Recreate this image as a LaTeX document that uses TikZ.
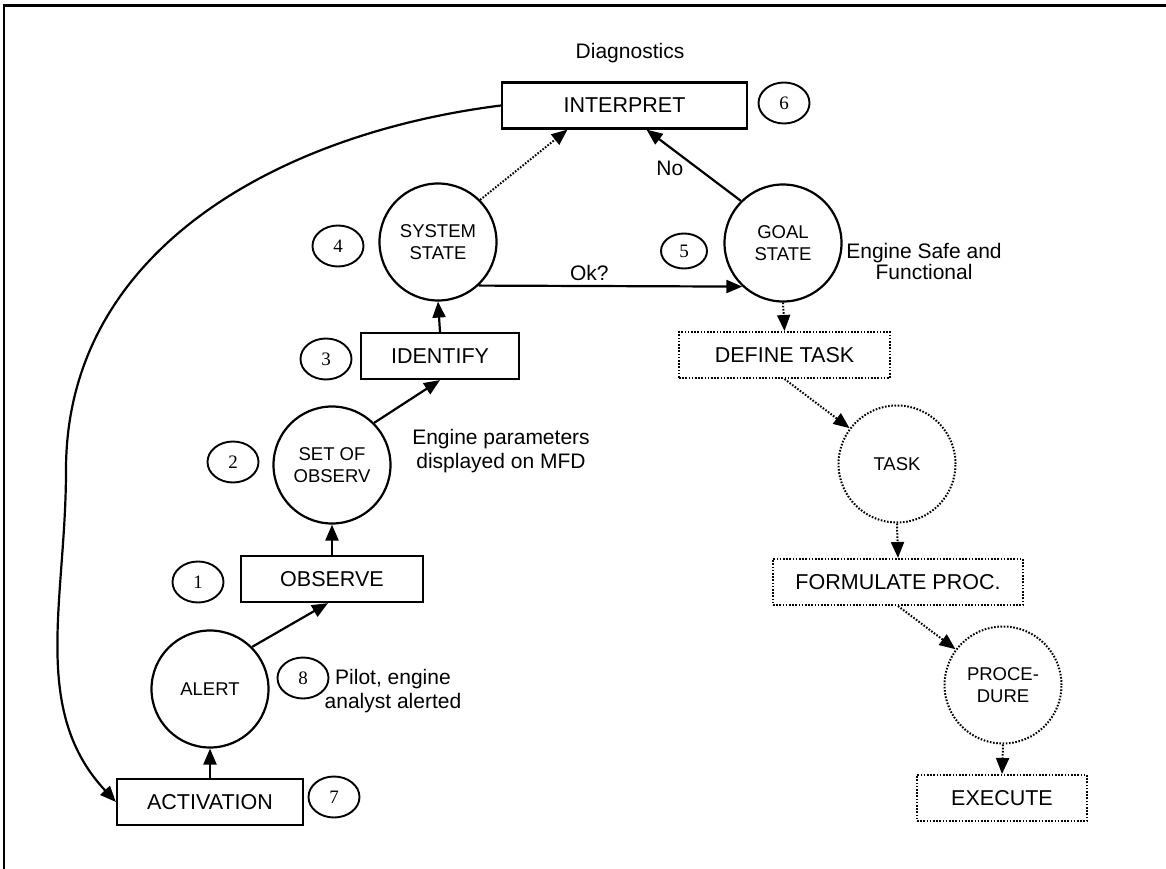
\documentclass[tikz,border=0pt]{standalone}
\usepackage{fontspec}
\setmainfont{Liberation Sans}
\newfontfamily\numfont{Liberation Serif}
\usetikzlibrary{arrows.meta,shapes.geometric}
\begin{document}
\begin{tikzpicture}[x=1pt,y=-1pt,
  every node/.style={inner sep=0pt},
  box/.style={draw, line width=2.2pt, minimum height=46pt, font=\fontsize{21.5}{24}\selectfont},
  dbox/.style={box, line width=2pt, dash pattern=on 1.6pt off 1.6pt},
  state/.style={draw, circle, line width=2.2pt, minimum size=117pt, align=center, font=\fontsize{18.5}{21.5}\selectfont},
  dstate/.style={state, line width=2pt, dash pattern=on 1.6pt off 1.6pt},
  num/.style={draw, ellipse, line width=1.9pt, minimum width=51pt, minimum height=41pt, font=\numfont\fontsize{19}{20}\selectfont},
  note/.style={align=center, font=\fontsize{21}{23.5}\selectfont},
  flow/.style={line width=2.2pt, -{Triangle[length=16pt,width=13pt]}},
  dflow/.style={flow, line width=2pt, dash pattern=on 1.6pt off 1.6pt},
]
\useasboundingbox (0,0) rectangle (1166,869);
% frame
\draw[line width=2pt] (4,869) -- (4,6);
\draw[line width=3pt] (3,6) -- (1166,6);

% title
\node[note] (diag) at (630,53) {Diagnostics};

% left branch
\node[box, minimum width=245pt] (interp) at (624.5,105.5) {INTERPRET};
\node[num] (n6) at (784,103) {6};
\node[state] (sys) at (438,242) {SYSTEM\\STATE};
\node[num] (n4) at (338,246) {4};
\node[box, minimum width=158pt] (ident) at (440,356) {IDENTIFY};
\node[num] (n3) at (326,359) {3};
\node[state] (obs) at (332,465) {SET OF\\OBSERV};
\node[num] (n2) at (233,462) {2};
\node[note] (params) at (501,451) {Engine parameters\\displayed on MFD};
\node[box, minimum width=182pt] (observe) at (332,579) {OBSERVE};
\node[num] (n1) at (198,582) {1};
\node[state] (alert) at (210,689) {ALERT};
\node[num] (n8) at (303,678) {8};
\node[note] (pilot) at (393,691) {Pilot, engine\\analyst alerted};
\node[box, minimum width=186pt] (act) at (210,802) {ACTIVATION};
\node[num] (n7) at (334,797) {7};

% right branch
\node[state] (goal) at (783,243) {GOAL\\STATE};
\node[num, minimum width=46pt, minimum height=35pt] (n5) at (684,251) {5};
\node[note, font=\fontsize{21}{21}\selectfont] (safe) at (924,261) {Engine Safe and\\Functional};
\node[dbox, minimum width=211pt] (define) at (784.5,355) {DEFINE TASK};
\node[dstate] (task) at (897,464) {TASK};
\node[dbox, minimum width=250pt] (form) at (898,582) {FORMULATE PROC.};
\node[dstate] (proc) at (1003,685) {PROCE-\\DURE};
\node[dbox, minimum width=170pt] (exec) at (1002,798) {EXECUTE};

% solid connectors
\draw[flow] (act.north) -- (alert.south);
\draw[flow] (alert.45) -- ([xshift=-4pt]observe.south);
\draw[flow] (observe.north) -- (obs.south);
\draw[flow] (obs.45) -- (ident.south);
\draw[flow] (ident.north) -- (sys.south);
\draw[flow] (sys.-47) -- node[pos=0.42, above=4pt, font=\fontsize{21}{24}\selectfont] (ok) {Ok?} (goal.-133);
\draw[flow] (goal.135) -- node[pos=0.45, left=14pt, font=\fontsize{21}{24}\selectfont] (no) {No} ([xshift=22pt]interp.south);
\draw[dflow] (sys.45) -- ([xshift=-57pt]interp.south);

% feedback loop from interpretation back to activation
\coordinate (bend) at (66,470);
\draw[flow] (interp.west) .. controls (282,133) and (66,248) .. (bend)
  .. controls (66,600) and (30,710) .. (act.west);

% dotted task chain
\draw[dflow] (goal.south) -- (define.north);
\draw[dflow] (define.south) -- (task);
\draw[dflow] (task.south) -- (form.north);
\draw[dflow] (form.south) -- (proc);
\draw[dflow] (proc.south) -- (exec.north);
\end{tikzpicture}
\end{document}
